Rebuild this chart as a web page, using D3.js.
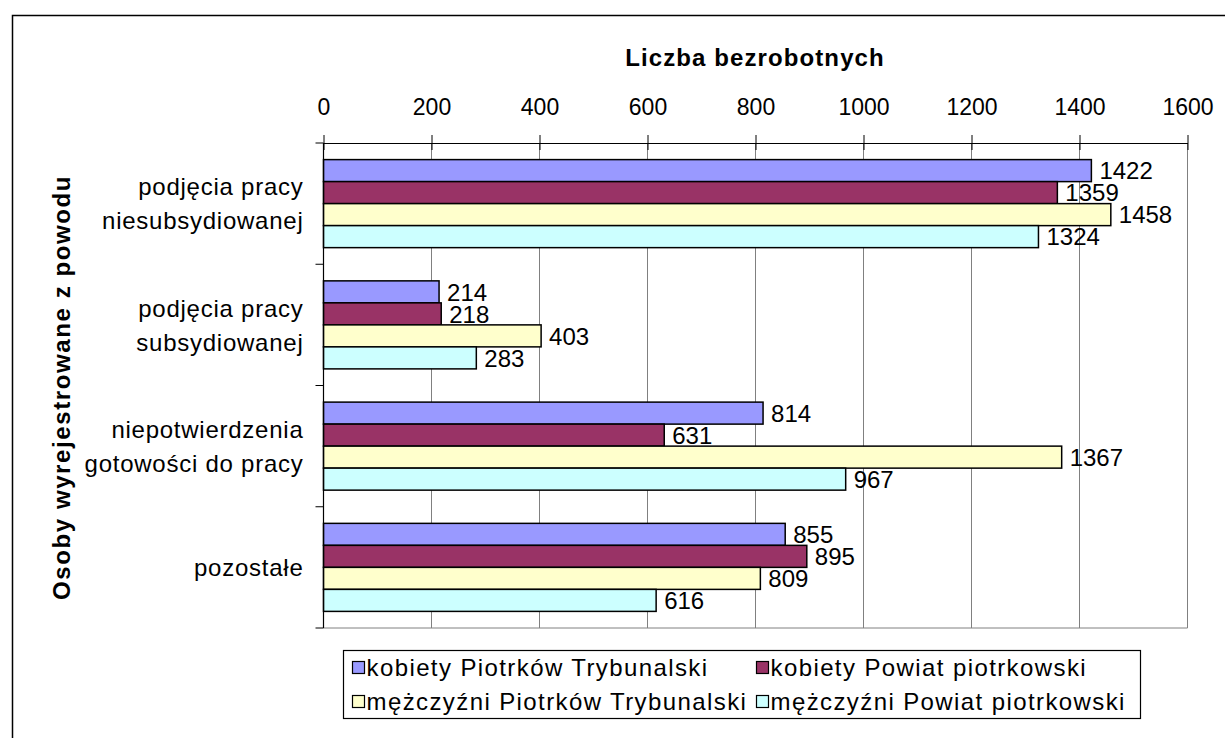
<!DOCTYPE html>
<html>
<head>
<meta charset="utf-8">
<script src="https://cdn.jsdelivr.net/npm/d3@7"></script>
<style>
  body { margin: 0; background: #fff; }
  svg text { font-family: "Liberation Sans", Arial, sans-serif; fill: #000; }
</style>
</head>
<body>
<div id="chart"></div>
<script>
// category labels (each split in lines)
var categories = [
    ["podjęcia pracy", "niesubsydiowanej"],
    ["podjęcia pracy", "subsydiowanej"],
    ["niepotwierdzenia", "gotowości do pracy"],
    ["pozostałe"]
];
var seriesNames = [
    "kobiety Piotrków Trybunalski",
    "kobiety Powiat piotrkowski",
    "mężczyźni Piotrków Trybunalski",
    "mężczyźni Powiat piotrkowski"
];
var kobietyPiotrkow = [1422, 214, 814, 855];
var kobietyPowiat = [1359, 218, 631, 895];
var mezczyzniPiotrkow = [1458, 403, 1367, 809];
var mezczyzniPowiat = [1324, 283, 967, 616];
var tickValues = [0, 200, 400, 600, 800, 1000, 1200, 1400, 1600];
var colors = ["#9999FF", "#993366", "#FFFFCC", "#CCFFFF"];

function init() {
    var w = 1225, h = 738;
    var margin = { top: 143, left: 323.5, right: 37.5, bottom: 110 };
    var width = w - margin.left - margin.right;
    var height = h - margin.top - margin.bottom;

    var svg = d3.select("#chart").append("svg")
        .attr("width", w)
        .attr("height", h);

    // outer chart frame (runs off the right and bottom edge)
    svg.append("rect")
        .attr("x", 12.5).attr("y", 15.5)
        .attr("width", w).attr("height", h)
        .attr("fill", "none")
        .attr("stroke", "#000")
        .attr("stroke-width", 1.5);

    var g = svg.append("g")
        .attr("transform", "translate(" + margin.left + "," + margin.top + ")");

    var allSeries = [kobietyPiotrkow, kobietyPowiat, mezczyzniPiotrkow, mezczyzniPowiat];
    var data = categories.map(function (c, i) {
        return { idx: i, label: c, values: allSeries.map(function (s, j) { return { key: j, value: s[i] }; }) };
    });

    var x = d3.scaleLinear().domain([0, 1600]).range([0, width]);

    var y0 = d3.scaleBand()
        .domain(d3.range(categories.length))
        .range([0, height])
        .paddingInner(0.274)
        .paddingOuter(0.137);

    var y1 = d3.scaleBand()
        .domain(d3.range(seriesNames.length))
        .range([0, y0.bandwidth()]);

    // vertical gridlines
    g.append("g").selectAll("line")
        .data(tickValues.slice(1))
        .enter().append("line")
        .attr("x1", function (d) { return x(d); })
        .attr("x2", function (d) { return x(d); })
        .attr("y1", 0).attr("y2", height)
        .attr("stroke", "#808080")
        .attr("stroke-width", 1);

    // bottom border of plot area
    g.append("line")
        .attr("x1", 0).attr("x2", width)
        .attr("y1", height).attr("y2", height)
        .attr("stroke", "#808080");

    // bars
    var groups = g.append("g").selectAll("g")
        .data(data)
        .enter().append("g")
        .attr("transform", function (d) { return "translate(0," + y0(d.idx) + ")"; });

    groups.selectAll("rect")
        .data(function (d) { return d.values; })
        .enter().append("rect")
        .attr("x", x(0))
        .attr("y", function (d) { return y1(d.key); })
        .attr("width", function (d) { return x(d.value) - x(0); })
        .attr("height", y1.bandwidth())
        .attr("fill", function (d) { return colors[d.key]; })
        .attr("stroke", "#000")
        .attr("stroke-width", 1.5);

    // value labels
    groups.selectAll("text.val")
        .data(function (d) { return d.values; })
        .enter().append("text")
        .attr("class", "val")
        .attr("x", function (d) { return x(d.value) + 8; })
        .attr("y", function (d) { return y1(d.key) + y1.bandwidth() / 2; })
        .attr("dy", "0.36em")
        .style("font-size", "24px")
        .text(function (d) { return d.value; });

    // top axis
    var xAxis = d3.axisTop(x)
        .tickValues(tickValues)
        .tickFormat(d3.format("d"))
        .tickSize(0)
        .tickPadding(28);
    var xg = g.append("g").call(xAxis);
    xg.attr("font-family", null).attr("font-size", null);
    xg.select(".domain").attr("stroke", "#000").attr("stroke-width", 1.2);
    xg.selectAll("text").style("font-size", "23px");
    // cross ticks
    xg.selectAll(".tick").append("line")
        .attr("y1", -8).attr("y2", 7)
        .attr("stroke", "#000");

    // left axis with ticks at category boundaries
    g.append("line")
        .attr("x1", 0).attr("x2", 0)
        .attr("y1", 0).attr("y2", height)
        .attr("stroke", "#000").attr("stroke-width", 1.2);
    g.append("g").selectAll("line")
        .data(d3.range(categories.length + 1))
        .enter().append("line")
        .attr("x1", -8).attr("x2", 0)
        .attr("y1", function (d) { return d * y0.step(); })
        .attr("y2", function (d) { return d * y0.step(); })
        .attr("stroke", "#000");

    // category labels
    var lineH = 34;
    g.append("g").selectAll("text")
        .data(data)
        .enter().append("text")
        .attr("text-anchor", "end")
        .style("font-size", "24px")
        .style("letter-spacing", "0.75px")
        .each(function (d) {
            var t = d3.select(this);
            var cy = y0(d.idx) + y0.bandwidth() / 2;
            var n = d.label.length;
            d.label.forEach(function (line, k) {
                t.append("tspan")
                    .attr("x", -20)
                    .attr("y", cy + (k - (n - 1) / 2) * lineH)
                    .attr("dy", "0.36em")
                    .text(line);
            });
        });

    // axis titles
    svg.append("text")
        .attr("x", 755).attr("y", 66)
        .attr("text-anchor", "middle")
        .style("font-size", "24px")
        .style("font-weight", "bold")
        .style("letter-spacing", "1.1px")
        .text("Liczba bezrobotnych");

    svg.append("text")
        .attr("transform", "translate(70," + (margin.top + height / 2 + 2) + ") rotate(-90)")
        .attr("text-anchor", "middle")
        .style("font-size", "24px")
        .style("font-weight", "bold")
        .style("letter-spacing", "1.6px")
        .text("Osoby wyrejestrowane z powodu");

    // legend
    var lg = svg.append("g").attr("transform", "translate(343.5,650.5)");
    lg.append("rect")
        .attr("width", 797).attr("height", 68)
        .attr("fill", "#fff")
        .attr("stroke", "#000")
        .attr("stroke-width", 1.2);
    var items = lg.selectAll("g.item")
        .data(seriesNames)
        .enter().append("g")
        .attr("class", "item")
        .attr("transform", function (d, i) {
            return "translate(" + (i % 2 === 0 ? 9 : 413) + "," + (i < 2 ? 17 : 51) + ")";
        });
    items.append("rect")
        .attr("x", 0).attr("y", -6)
        .attr("width", 12).attr("height", 12)
        .attr("fill", function (d, i) { return colors[i]; })
        .attr("stroke", "#000")
        .attr("stroke-width", 1.2);
    items.append("text")
        .attr("x", 14).attr("dy", "0.36em")
        .style("font-size", "24px")
        .style("letter-spacing", "1.4px")
        .text(function (d) { return d; });
}
window.onload = init;
</script>
</body>
</html>
